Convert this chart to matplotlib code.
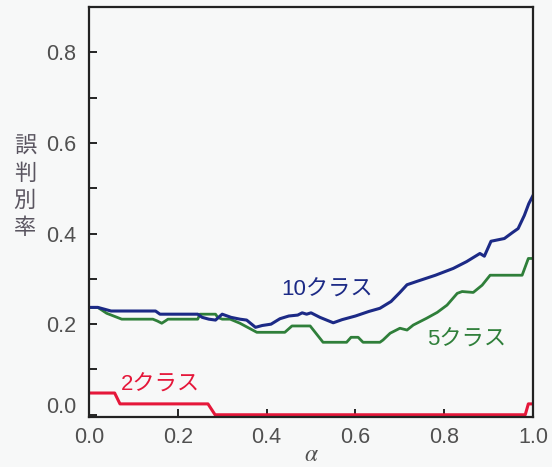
import numpy as np
import matplotlib.pyplot as plt
from matplotlib.transforms import ScaledTranslation

plt.rcParams['font.family'] = ['Liberation Sans', 'Noto Sans CJK JP']
plt.rcParams['mathtext.fontset'] = 'stix'

# misclassification rate vs alpha, one curve per number of classes
a10 = [0.0, 0.02, 0.035, 0.05, 0.15, 0.16, 0.245, 0.255, 0.27, 0.285, 0.30,
       0.32, 0.34, 0.355, 0.375, 0.39, 0.41, 0.43, 0.45, 0.47, 0.48, 0.49,
       0.50, 0.52, 0.55, 0.57, 0.60, 0.63, 0.655, 0.68, 0.70, 0.716, 0.74,
       0.78, 0.82, 0.85, 0.87, 0.88, 0.89, 0.905, 0.935, 0.953, 0.966, 0.98,
       0.99, 1.0]
e10 = [0.237, 0.237, 0.233, 0.229, 0.229, 0.222, 0.222, 0.215, 0.211, 0.209,
       0.222, 0.215, 0.211, 0.209, 0.193, 0.197, 0.200, 0.212, 0.218, 0.220,
       0.225, 0.222, 0.225, 0.215, 0.203, 0.210, 0.218, 0.228, 0.235, 0.250,
       0.270, 0.287, 0.295, 0.308, 0.323, 0.338, 0.350, 0.356, 0.350, 0.383,
       0.389, 0.402, 0.411, 0.440, 0.466, 0.485]

a5 = [0.0, 0.02, 0.04, 0.074, 0.144, 0.154, 0.164, 0.172, 0.178, 0.245,
      0.25, 0.285, 0.29, 0.30, 0.318, 0.34, 0.378, 0.441, 0.457, 0.498,
      0.527, 0.58, 0.59, 0.606, 0.617, 0.655, 0.662, 0.678, 0.70, 0.716,
      0.73, 0.76, 0.784, 0.806, 0.829, 0.84, 0.865, 0.885, 0.903, 0.975,
      0.989, 1.0]
e5 = [0.237, 0.237, 0.224, 0.211, 0.211, 0.207, 0.202, 0.207, 0.211, 0.211,
      0.222, 0.222, 0.215, 0.211, 0.211, 0.202, 0.182, 0.182, 0.196, 0.196,
      0.160, 0.160, 0.171, 0.171, 0.160, 0.160, 0.165, 0.180, 0.191, 0.187,
      0.198, 0.213, 0.226, 0.242, 0.268, 0.272, 0.270, 0.286, 0.308, 0.308,
      0.345, 0.345]

a2 = [0.0, 0.058, 0.07, 0.268, 0.284, 0.982, 0.989, 1.0]
e2 = [0.048, 0.048, 0.024, 0.024, 0.0, 0.0, 0.024, 0.024]

fig, ax = plt.subplots(figsize=(5.52, 4.67), dpi=100)
fig.patch.set_facecolor('#f7f8f8')
ax.set_facecolor('#f7f8f8')
fig.subplots_adjust(left=0.161, right=0.966, top=0.985, bottom=0.107)

ax.plot(a2, e2, color='#e5173a', lw=2.2)
ax.plot(a5, e5, color='#2f7f3a', lw=2.0)
ax.plot(a10, e10, color='#1c2a86', lw=2.2)

ax.text(0.536, 0.275, '10クラス', color='#1c2a86', fontsize=16, ha='center', va='center')
ax.text(0.849, 0.165, '5クラス', color='#2f7f3a', fontsize=16, ha='center', va='center')
ax.text(0.162, 0.066, '2クラス', color='#e5173a', fontsize=16, ha='center', va='center')

ax.set_xlim(0, 1.0)
ax.set_ylim(-0.005, 0.9)
ax.set_xticks([0.0, 0.2, 0.4, 0.6, 0.8, 1.0])
ax.set_yticks([0.0, 0.2, 0.4, 0.6, 0.8])
ax.set_yticks([0.1, 0.3, 0.5, 0.7], minor=True)
ax.tick_params(direction='in', length=6, width=1.2, labelsize=15.5,
               labelcolor='#505050')
ax.tick_params(axis='y', pad=9)
ax.tick_params(axis='x', pad=7)
ax.tick_params(which='minor', direction='in', length=6, width=1.2)
for sp in ax.spines.values():
    sp.set_linewidth(1.6)
    sp.set_color('#222222')

# lift the bottom y label a bit
lbl = ax.get_yticklabels()[0]
lbl.set_transform(lbl.get_transform() + ScaledTranslation(0, 7 / 72, fig.dpi_scale_trans))

# x axis name and the stacked y axis name
ax.text(0.5, -0.092, r'$\alpha$', fontsize=17, color='#505050',
        ha='center', va='center', transform=ax.transAxes)
fig.text(0.045, 0.597, '誤\n判\n別\n率', fontsize=16, color='#5a5560',
         ha='center', va='center', linespacing=1.38)

fig.savefig('out.png', dpi=100, facecolor=fig.get_facecolor())
